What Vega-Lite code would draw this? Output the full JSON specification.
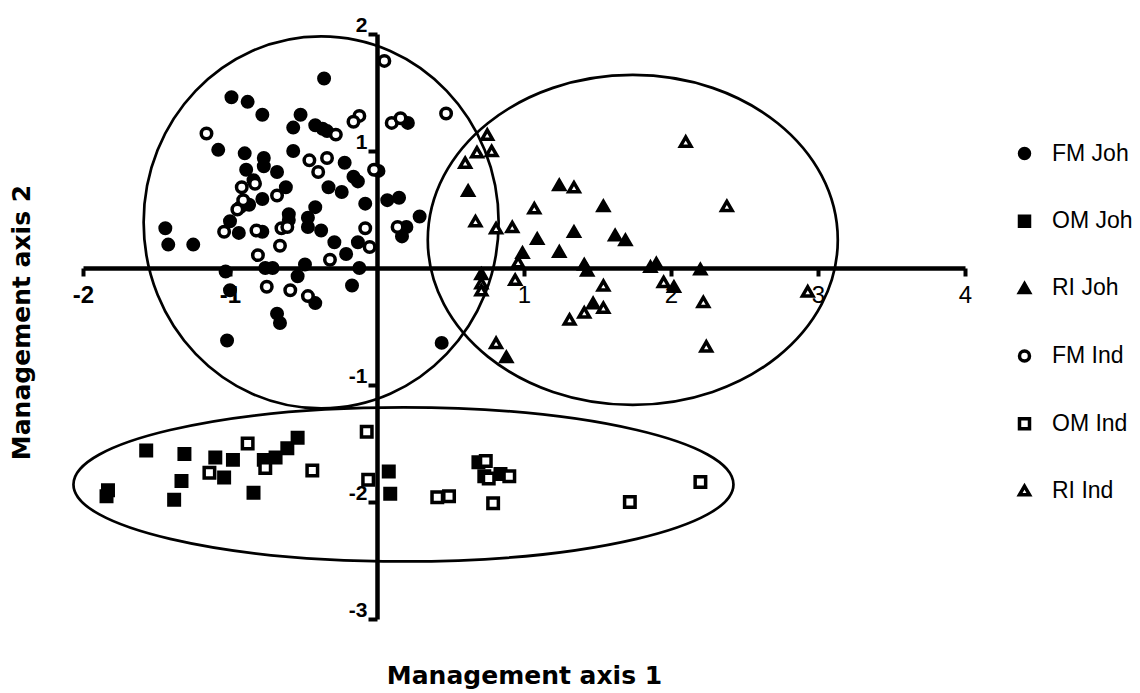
{
  "$schema": "https://vega.github.io/schema/vega-lite/v6.json",
  "width": 882,
  "height": 585,
  "autosize": {"type": "none"},
  "padding": {"left": 83, "top": 34, "right": 175, "bottom": 74},
  "background": "white",
  "config": {"view": {"stroke": null}, "legend": {"symbolStrokeWidth": 3.5}},
  "datasets": {
    "ellipses": [
      {"name": "FM", "x": -0.38, "y": 0.39},
      {"name": "RI", "x": 1.74, "y": 0.24},
      {"name": "OM", "x": 0.18, "y": -1.85}
    ],
    "points": [
      {"g": "FM Joh", "x": -0.36, "y": 1.62},
      {"g": "FM Joh", "x": -0.99, "y": 1.46},
      {"g": "FM Joh", "x": -0.88, "y": 1.42},
      {"g": "FM Joh", "x": -0.78, "y": 1.31},
      {"g": "FM Joh", "x": -0.52, "y": 1.31},
      {"g": "FM Joh", "x": 0.21, "y": 1.24},
      {"g": "FM Joh", "x": -0.57, "y": 1.2},
      {"g": "FM Joh", "x": -0.42, "y": 1.22},
      {"g": "FM Joh", "x": -0.37, "y": 1.19},
      {"g": "FM Joh", "x": -0.34, "y": 1.17},
      {"g": "FM Joh", "x": -1.08, "y": 1.01},
      {"g": "FM Joh", "x": -0.9, "y": 0.98},
      {"g": "FM Joh", "x": -0.57, "y": 1.0},
      {"g": "FM Joh", "x": -0.77, "y": 0.94},
      {"g": "FM Joh", "x": -0.77, "y": 0.87},
      {"g": "FM Joh", "x": -0.89, "y": 0.84},
      {"g": "FM Joh", "x": -0.68, "y": 0.82},
      {"g": "FM Joh", "x": -0.22, "y": 0.9},
      {"g": "FM Joh", "x": -0.16, "y": 0.78},
      {"g": "FM Joh", "x": -0.13, "y": 0.74},
      {"g": "FM Joh", "x": 0.01, "y": 0.83},
      {"g": "FM Joh", "x": -0.84, "y": 0.75},
      {"g": "FM Joh", "x": -0.62, "y": 0.69},
      {"g": "FM Joh", "x": -0.33, "y": 0.69},
      {"g": "FM Joh", "x": -0.24, "y": 0.65},
      {"g": "FM Joh", "x": -0.78, "y": 0.59},
      {"g": "FM Joh", "x": -0.87, "y": 0.54},
      {"g": "FM Joh", "x": -0.93, "y": 0.52},
      {"g": "FM Joh", "x": -0.08, "y": 0.55},
      {"g": "FM Joh", "x": 0.07, "y": 0.58},
      {"g": "FM Joh", "x": 0.15, "y": 0.6},
      {"g": "FM Joh", "x": 0.29, "y": 0.44},
      {"g": "FM Joh", "x": -0.42, "y": 0.52},
      {"g": "FM Joh", "x": -0.6, "y": 0.46},
      {"g": "FM Joh", "x": -0.47, "y": 0.43},
      {"g": "FM Joh", "x": -0.47, "y": 0.35},
      {"g": "FM Joh", "x": -0.38, "y": 0.32},
      {"g": "FM Joh", "x": -1.44, "y": 0.34},
      {"g": "FM Joh", "x": -1.42, "y": 0.2},
      {"g": "FM Joh", "x": -1.25, "y": 0.2},
      {"g": "FM Joh", "x": -1.0, "y": 0.4},
      {"g": "FM Joh", "x": -0.94, "y": 0.3},
      {"g": "FM Joh", "x": -0.78, "y": 0.31},
      {"g": "FM Joh", "x": -0.6, "y": 0.41},
      {"g": "FM Joh", "x": -0.29, "y": 0.22},
      {"g": "FM Joh", "x": -0.21, "y": 0.12},
      {"g": "FM Joh", "x": -0.13, "y": 0.22},
      {"g": "FM Joh", "x": 0.2, "y": 0.35},
      {"g": "FM Joh", "x": 0.17, "y": 0.27},
      {"g": "FM Joh", "x": -1.03, "y": -0.03},
      {"g": "FM Joh", "x": -1.0, "y": -0.19},
      {"g": "FM Joh", "x": -0.76, "y": 0.0},
      {"g": "FM Joh", "x": -0.71, "y": 0.0},
      {"g": "FM Joh", "x": -0.49, "y": 0.03},
      {"g": "FM Joh", "x": -0.54, "y": -0.07},
      {"g": "FM Joh", "x": -0.12, "y": 0.0},
      {"g": "FM Joh", "x": -0.42, "y": -0.3},
      {"g": "FM Joh", "x": -0.17, "y": -0.15},
      {"g": "FM Joh", "x": -0.68, "y": -0.39},
      {"g": "FM Joh", "x": -0.66, "y": -0.47},
      {"g": "FM Joh", "x": -1.02, "y": -0.62},
      {"g": "FM Joh", "x": 0.44, "y": -0.64},
      {"g": "FM Ind", "x": 0.05, "y": 1.77},
      {"g": "FM Ind", "x": -0.12, "y": 1.3},
      {"g": "FM Ind", "x": -0.16, "y": 1.25},
      {"g": "FM Ind", "x": 0.1, "y": 1.24},
      {"g": "FM Ind", "x": 0.16, "y": 1.28},
      {"g": "FM Ind", "x": 0.47, "y": 1.32},
      {"g": "FM Ind", "x": -0.28, "y": 1.14},
      {"g": "FM Ind", "x": -1.16, "y": 1.15},
      {"g": "FM Ind", "x": -0.46, "y": 0.92},
      {"g": "FM Ind", "x": -0.34, "y": 0.94},
      {"g": "FM Ind", "x": -0.4, "y": 0.82},
      {"g": "FM Ind", "x": -0.02, "y": 0.84},
      {"g": "FM Ind", "x": -0.92, "y": 0.69},
      {"g": "FM Ind", "x": -0.83, "y": 0.72},
      {"g": "FM Ind", "x": -0.68, "y": 0.62},
      {"g": "FM Ind", "x": -0.91, "y": 0.58},
      {"g": "FM Ind", "x": -0.95, "y": 0.5},
      {"g": "FM Ind", "x": -1.04, "y": 0.31},
      {"g": "FM Ind", "x": -0.82, "y": 0.32},
      {"g": "FM Ind", "x": -0.65, "y": 0.34},
      {"g": "FM Ind", "x": -0.61, "y": 0.35},
      {"g": "FM Ind", "x": -0.66, "y": 0.19},
      {"g": "FM Ind", "x": -0.08, "y": 0.34},
      {"g": "FM Ind", "x": -0.05, "y": 0.18},
      {"g": "FM Ind", "x": 0.14, "y": 0.35},
      {"g": "FM Ind", "x": -0.81, "y": 0.11},
      {"g": "FM Ind", "x": -0.32, "y": 0.07},
      {"g": "FM Ind", "x": -0.75, "y": -0.16},
      {"g": "FM Ind", "x": -0.59, "y": -0.19},
      {"g": "FM Ind", "x": -0.47, "y": -0.24},
      {"g": "RI Joh", "x": 0.62, "y": 0.66},
      {"g": "RI Joh", "x": 1.24, "y": 0.71},
      {"g": "RI Joh", "x": 1.54, "y": 0.53},
      {"g": "RI Joh", "x": 1.34, "y": 0.31},
      {"g": "RI Joh", "x": 1.09, "y": 0.25},
      {"g": "RI Joh", "x": 1.24, "y": 0.14},
      {"g": "RI Joh", "x": 0.99, "y": 0.13},
      {"g": "RI Joh", "x": 1.62, "y": 0.28},
      {"g": "RI Joh", "x": 1.69, "y": 0.24},
      {"g": "RI Joh", "x": 1.41, "y": 0.03},
      {"g": "RI Joh", "x": 1.43, "y": -0.02},
      {"g": "RI Joh", "x": 1.86, "y": 0.01},
      {"g": "RI Joh", "x": 1.9, "y": 0.04},
      {"g": "RI Joh", "x": 2.2, "y": -0.01},
      {"g": "RI Joh", "x": 0.71, "y": -0.05},
      {"g": "RI Joh", "x": 1.47, "y": -0.3},
      {"g": "RI Joh", "x": 2.02, "y": -0.16},
      {"g": "RI Joh", "x": 0.88, "y": -0.76},
      {"g": "RI Ind", "x": 0.75, "y": 1.14},
      {"g": "RI Ind", "x": 0.68, "y": 0.99},
      {"g": "RI Ind", "x": 0.78, "y": 1.0},
      {"g": "RI Ind", "x": 0.6, "y": 0.9},
      {"g": "RI Ind", "x": 0.67, "y": 0.4},
      {"g": "RI Ind", "x": 0.81, "y": 0.34},
      {"g": "RI Ind", "x": 0.92, "y": 0.35},
      {"g": "RI Ind", "x": 1.07, "y": 0.51},
      {"g": "RI Ind", "x": 1.34, "y": 0.69},
      {"g": "RI Ind", "x": 2.1, "y": 1.08},
      {"g": "RI Ind", "x": 2.38, "y": 0.53},
      {"g": "RI Ind", "x": 0.96, "y": 0.05},
      {"g": "RI Ind", "x": 0.71, "y": -0.13},
      {"g": "RI Ind", "x": 0.71, "y": -0.19},
      {"g": "RI Ind", "x": 0.94, "y": -0.1},
      {"g": "RI Ind", "x": 1.54, "y": -0.15},
      {"g": "RI Ind", "x": 1.54, "y": -0.34},
      {"g": "RI Ind", "x": 1.41, "y": -0.38},
      {"g": "RI Ind", "x": 1.31, "y": -0.44},
      {"g": "RI Ind", "x": 1.95, "y": -0.12},
      {"g": "RI Ind", "x": 2.22, "y": -0.29},
      {"g": "RI Ind", "x": 0.81, "y": -0.64},
      {"g": "RI Ind", "x": 2.24, "y": -0.67},
      {"g": "RI Ind", "x": 2.93, "y": -0.2},
      {"g": "OM Joh", "x": -1.57, "y": -1.56},
      {"g": "OM Joh", "x": -1.31, "y": -1.59},
      {"g": "OM Joh", "x": -1.1, "y": -1.62},
      {"g": "OM Joh", "x": -0.98, "y": -1.64},
      {"g": "OM Joh", "x": -0.77, "y": -1.64},
      {"g": "OM Joh", "x": -0.69, "y": -1.62},
      {"g": "OM Joh", "x": -0.61, "y": -1.54},
      {"g": "OM Joh", "x": -0.54, "y": -1.45},
      {"g": "OM Joh", "x": -1.04, "y": -1.79},
      {"g": "OM Joh", "x": -1.33, "y": -1.82},
      {"g": "OM Joh", "x": -1.83, "y": -1.9},
      {"g": "OM Joh", "x": -1.84, "y": -1.95},
      {"g": "OM Joh", "x": -1.38, "y": -1.98},
      {"g": "OM Joh", "x": -0.84, "y": -1.92},
      {"g": "OM Joh", "x": 0.08, "y": -1.74},
      {"g": "OM Joh", "x": 0.09, "y": -1.93},
      {"g": "OM Joh", "x": 0.69, "y": -1.66},
      {"g": "OM Joh", "x": 0.84, "y": -1.76},
      {"g": "OM Joh", "x": 0.73, "y": -1.78},
      {"g": "OM Ind", "x": -0.88, "y": -1.5},
      {"g": "OM Ind", "x": -1.14, "y": -1.75},
      {"g": "OM Ind", "x": -0.76, "y": -1.71},
      {"g": "OM Ind", "x": -0.44, "y": -1.73},
      {"g": "OM Ind", "x": -0.07, "y": -1.4},
      {"g": "OM Ind", "x": -0.06, "y": -1.81},
      {"g": "OM Ind", "x": 0.41, "y": -1.96},
      {"g": "OM Ind", "x": 0.49, "y": -1.95},
      {"g": "OM Ind", "x": 0.74, "y": -1.65},
      {"g": "OM Ind", "x": 0.76, "y": -1.8},
      {"g": "OM Ind", "x": 0.9, "y": -1.78},
      {"g": "OM Ind", "x": 0.79, "y": -2.01},
      {"g": "OM Ind", "x": 1.72, "y": -2.0},
      {"g": "OM Ind", "x": 2.2, "y": -1.83}
    ]
  },
  "encoding": {
    "x": {
      "field": "x", "type": "quantitative",
      "scale": {"domain": [-2, 4], "nice": false, "zero": false},
      "axis": {
        "orient": "bottom", "offset": -351,
        "values": [-2, -1, 1, 2, 3, 4],
        "labelExpr": "datum.value < 0 ? '-' + abs(datum.value) : '' + datum.value",
        "grid": false,
        "domainColor": "black", "domainWidth": 4.5,
        "tickColor": "black", "tickWidth": 4, "tickSize": 8,
        "labelFont": "Liberation Sans", "labelFontSize": 24, "labelColor": "black",
        "labelFontWeight": {"condition": {"test": "datum.value < 0", "value": "bold"}, "value": "normal"},
        "labelPadding": 7, "labelBaseline": "top", "labelFlush": false, "labelOverlap": false, "labelBound": false,
        "title": "Management axis 1",
        "titleFont": "DejaVu Sans", "titleFontSize": 25, "titleFontWeight": "bold", "titleColor": "black",
        "titleX": 441, "titleY": 415, "titleBaseline": "alphabetic", "titleAlign": "center"
      }
    },
    "y": {
      "field": "y", "type": "quantitative",
      "scale": {"domain": [-3, 2], "nice": false, "zero": false},
      "axis": {
        "orient": "left", "offset": -294,
        "values": [-3, -2, -1, 1, 2],
        "labelExpr": "datum.value < 0 ? '-' + abs(datum.value) : '' + datum.value",
        "grid": false,
        "domainColor": "black", "domainWidth": 4.5,
        "tickColor": "black", "tickWidth": 4, "tickSize": 9,
        "labelFont": "Liberation Sans", "labelFontSize": 21, "labelFontWeight": "bold", "labelColor": "black",
        "labelPadding": 1, "labelBaseline": "alphabetic", "labelOffset": -3,
        "labelFlush": false, "labelOverlap": false, "labelBound": false,
        "title": "Management axis 2",
        "titleFont": "DejaVu Sans", "titleFontSize": 25, "titleFontWeight": "bold", "titleColor": "black",
        "titleX": -348, "titleY": 288, "titleBaseline": "alphabetic", "titleAlign": "center", "titleAngle": -90
      }
    }
  },
  "layer": [
    {
      "data": {"name": "ellipses"},
      "transform": [{"filter": "datum.name == 'FM'"}],
      "mark": {"type": "point", "shape": "M-177.5,0A177.5,186,0,1,0,177.5,0A177.5,186,0,1,0,-177.5,0Z", "size": 4, "filled": false, "stroke": "black", "strokeWidth": 2.7, "opacity": 1}
    },
    {
      "data": {"name": "ellipses"},
      "transform": [{"filter": "datum.name == 'RI'"}],
      "mark": {"type": "point", "shape": "M-205,0A205,165,0,1,0,205,0A205,165,0,1,0,-205,0Z", "size": 4, "filled": false, "stroke": "black", "strokeWidth": 2.7, "opacity": 1}
    },
    {
      "data": {"name": "ellipses"},
      "transform": [{"filter": "datum.name == 'OM'"}],
      "mark": {"type": "point", "shape": "M-330,0A330,77,0,1,0,330,0A330,77,0,1,0,-330,0Z", "size": 4, "filled": false, "stroke": "black", "strokeWidth": 2.7, "opacity": 1}
    },
    {
      "data": {"name": "points"},
      "mark": {"type": "point", "filled": true, "stroke": "black", "strokeWidth": 3.5, "size": 110, "opacity": 1},
      "encoding": {
        "shape": {
          "field": "g", "type": "nominal",
          "scale": {"domain": ["FM Joh", "OM Joh", "RI Joh", "FM Ind", "OM Ind", "RI Ind"], "range": ["circle", "square", "triangle-up", "circle", "square", "triangle-up"]},
          "legend": {"orient": "none", "legendX": 930, "legendY": 108, "title": null, "labelFont": "Liberation Sans", "labelFontSize": 23, "labelColor": "black", "labelOffset": 16, "rowPadding": 42.8, "symbolSize": 100, "symbolStrokeWidth": 3.5, "labelLimit": 200,
            "encode": {"symbols": {"update": {"strokeWidth": {"value": 3.5}}}}}
        },
        "fill": {
          "field": "g", "type": "nominal",
          "scale": {"domain": ["FM Joh", "OM Joh", "RI Joh", "FM Ind", "OM Ind", "RI Ind"], "range": ["black", "black", "black", "white", "white", "white"]},
          "legend": {"orient": "none", "legendX": 930, "legendY": 108, "title": null, "labelFont": "Liberation Sans", "labelFontSize": 23, "labelColor": "black", "labelOffset": 16, "rowPadding": 42.8, "symbolSize": 100, "symbolStrokeWidth": 3.5, "labelLimit": 200,
            "encode": {"symbols": {"update": {"strokeWidth": {"value": 3.5}}}}}
        },
        "stroke": {
          "field": "g", "type": "nominal",
          "scale": {"domain": ["FM Joh", "OM Joh", "RI Joh", "FM Ind", "OM Ind", "RI Ind"], "range": ["black", "black", "black", "black", "black", "black"]},
          "legend": {"orient": "none", "legendX": 930, "legendY": 108, "title": null, "labelFont": "Liberation Sans", "labelFontSize": 23, "labelColor": "black", "labelOffset": 16, "rowPadding": 42.8, "symbolSize": 100, "symbolStrokeWidth": 3.5, "labelLimit": 200,
            "encode": {"symbols": {"update": {"strokeWidth": {"value": 3.5}}}}}
        }
      }
    }
  ]
}
